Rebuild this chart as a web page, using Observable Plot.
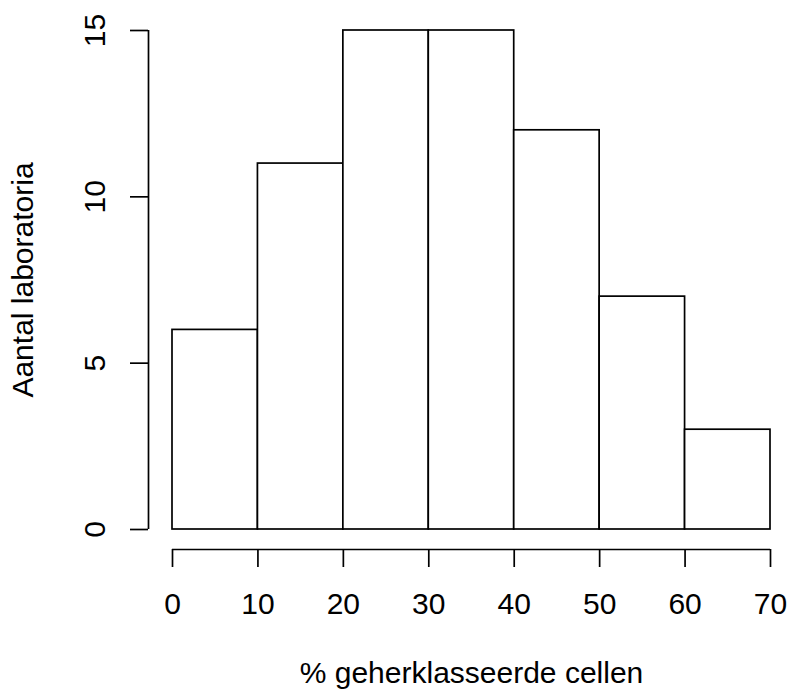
<!DOCTYPE html>
<html>
<head>
<meta charset="utf-8">
<script src="https://cdn.jsdelivr.net/npm/d3@7"></script>
<script src="https://cdn.jsdelivr.net/npm/@observablehq/plot@0.6"></script>
<style>
  html, body { margin: 0; padding: 0; background: #fff; }
</style>
</head>
<body>
<div id="chart"></div>
<script>
const binStarts = [0, 10, 20, 30, 40, 50, 60];
const binEnds   = [10, 20, 30, 40, 50, 60, 70];
const counts    = [6, 11, 15, 15, 12, 7, 3];
const xTicks = [0, 10, 20, 30, 40, 50, 60, 70];
const yTicks = [0, 5, 10, 15];
const xLabel = "% geherklasseerde cellen";
const yLabel = "Aantal laboratoria";

const bins = binStarts.map((s, i) => ({x1: s, x2: binEnds[i], y: counts[i]}));
const font = "Liberation Sans, Arial, Helvetica, sans-serif";
const fs = 30;

const chart = Plot.plot({
  width: 791,
  height: 692,
  marginLeft: 148,
  marginRight: 21,
  marginTop: 30,
  marginBottom: 143,
  style: {fontFamily: font, fontSize: fs + "px", background: "#fff", color: "#000"},
  x: {domain: [xTicks[0], xTicks[xTicks.length - 1]], range: [172, 770]},
  y: {domain: [yTicks[0], yTicks[yTicks.length - 1]], range: [529, 30]},
  marks: [
    Plot.rectY(bins, {x1: "x1", x2: "x2", y: "y", fill: "white", stroke: "black", strokeWidth: 1.7}),
    // x axis
    Plot.ruleY([0], {x1: xTicks[0], x2: xTicks[xTicks.length - 1], dy: 20, stroke: "black", strokeWidth: 1.7}),
    Plot.axisX({ticks: xTicks, tickSize: 18, tickFormat: () => "", label: null, strokeWidth: 1.7, stroke: "black"}),
    Plot.text(xTicks, {x: d => d, text: d => String(d), frameAnchor: "bottom", dy: 55, lineAnchor: "middle", fontSize: fs, fill: "black"}),
    // y axis
    Plot.ruleX([0], {y1: yTicks[0], y2: yTicks[yTicks.length - 1], dx: -24, stroke: "black", strokeWidth: 1.7}),
    Plot.axisY({ticks: yTicks, tickSize: 18, tickFormat: () => "", label: null, strokeWidth: 1.7, stroke: "black"}),
    Plot.text(yTicks, {y: d => d, text: d => String(d), frameAnchor: "left", dx: -53, rotate: -90, textAnchor: "middle", lineAnchor: "middle", fontSize: fs, fill: "black"}),
    // titles
    Plot.text([xLabel], {x: () => 35, frameAnchor: "bottom", dy: 124, text: d => d, textAnchor: "middle", lineAnchor: "middle", fontSize: fs, fill: "black"}),
    Plot.text([yLabel], {y: () => 7.5, frameAnchor: "left", dx: -125, rotate: -90, text: d => d, textAnchor: "middle", lineAnchor: "middle", fontSize: fs, fill: "black"})
  ]
});
document.getElementById("chart").appendChild(chart);
</script>
</body>
</html>
